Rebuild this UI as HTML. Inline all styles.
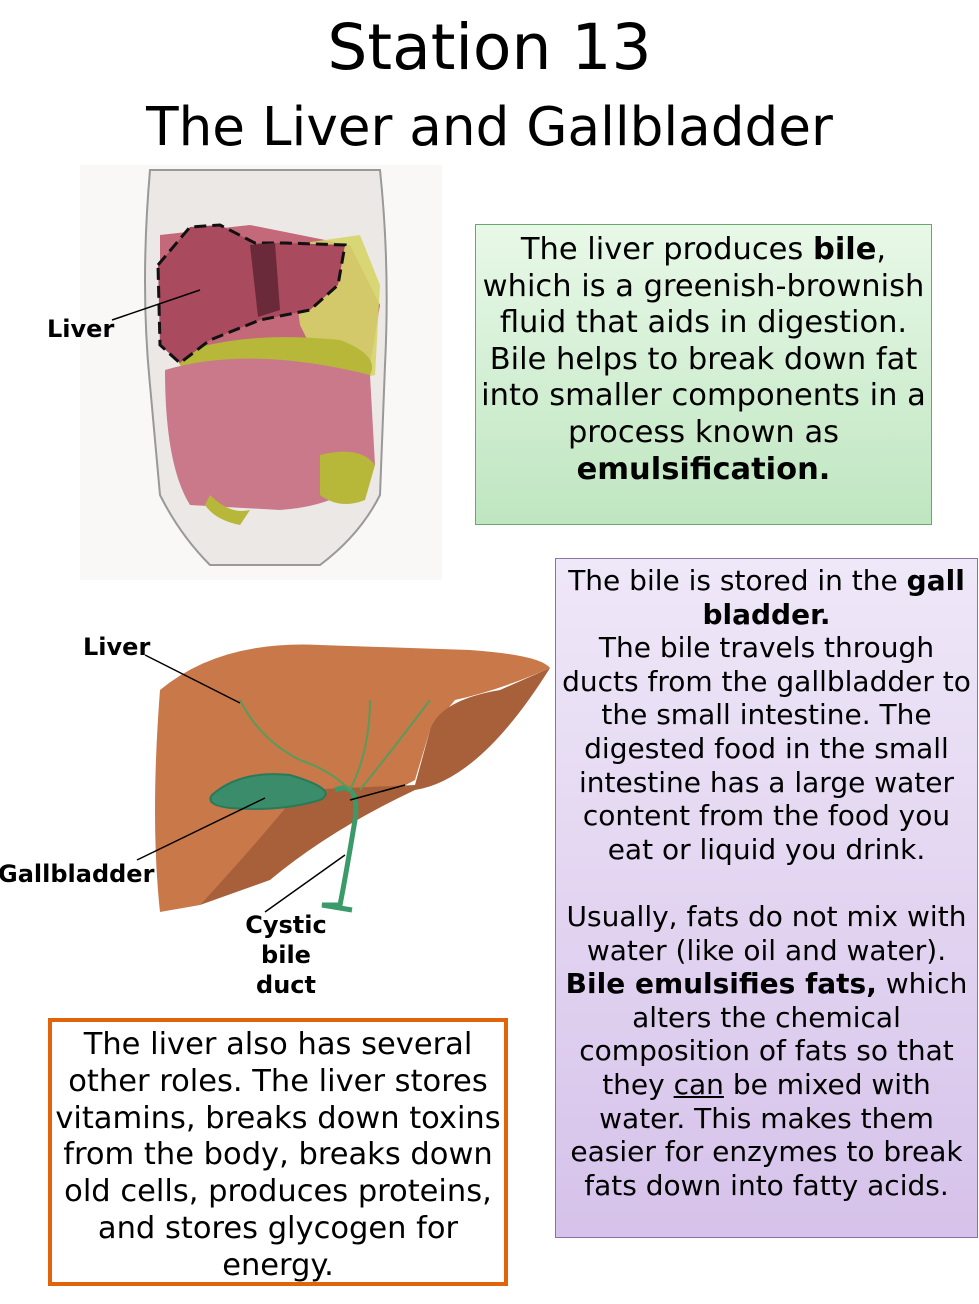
<!DOCTYPE html>
<html><head><meta charset="utf-8"><style>
body{margin:0;width:979px;height:1304px;background:#fff;position:relative;overflow:hidden;font-family:"DejaVu Sans","Liberation Sans",sans-serif;color:#000}
.t{position:absolute;left:0;width:979px;text-align:center}
.box{position:absolute;box-sizing:border-box;text-align:center;white-space:nowrap}
.lbl{position:absolute;font-weight:bold;font-size:24px}
</style></head><body>
<div class="t" style="top:12px;font-size:63px;line-height:72px">Station 13</div>
<div class="t" style="top:96px;font-size:53.2px;line-height:62px">The Liver and Gallbladder</div>

<svg style="position:absolute;left:80px;top:165px" width="362" height="415" viewBox="0 0 362 415">
<rect width="362" height="415" fill="#f9f8f7"/>
<path d="M70 5 Q60 120 70 220 L80 330 Q100 370 130 400 L240 400 Q280 370 300 330 L305 200 Q310 100 300 5 Z" fill="#ebe8e6" stroke="#999" stroke-width="2"/>
<path d="M80 70 L170 60 L270 80 L300 140 L290 200 L200 210 L110 200 L80 150 Z" fill="#c4697a"/>
<path d="M210 80 L280 70 L300 120 L295 210 L250 220 L220 160 Z" fill="#d6d468" opacity="0.9"/>
<path d="M95 190 Q160 165 260 175 Q300 190 290 210 Q230 230 110 220 Z" fill="#b7b83a"/>
<path d="M85 205 Q170 180 290 210 L295 300 Q270 340 200 345 L110 340 Q85 300 85 205Z" fill="#c9798a"/>
<path d="M240 290 Q280 280 295 300 L285 335 Q260 345 240 330Z" fill="#b7b83a"/>
<path d="M130 330 Q150 350 170 345 L160 360 Q135 355 125 340Z" fill="#b7b83a"/>
<path d="M78 100 L110 62 L140 60 L175 78 L205 78 L265 80 L258 120 L230 145 L180 155 L130 175 L100 198 L80 180 Z" fill="#a94a5e" stroke="#111" stroke-width="3" stroke-dasharray="12,6"/>
<path d="M170 80 L195 78 L200 145 L178 152 Z" fill="#6a2a3a"/>
</svg>
<div class="lbl" style="left:47px;top:315px">Liver</div>
<svg style="position:absolute;left:0;top:0" width="979" height="1304">
<line x1="112" y1="320" x2="200" y2="290" stroke="#000" stroke-width="1.5"/>
<path d="M160 690 Q220 640 320 645 L470 650 Q540 655 550 668 Q500 690 455 700 L430 730 L415 780 Q360 810 330 820 L200 905 L160 912 Q150 820 160 690Z" fill="#c9784a"/>
<path d="M200 905 Q260 840 300 790 L415 785 L430 730 Q440 700 500 690 L550 668 Q480 780 415 790 Q330 830 270 880Z" fill="#a8603a"/>
<path d="M212 795 Q240 770 290 775 Q340 790 320 800 Q280 812 230 808 Q205 805 212 795Z" fill="#3a8c6a" stroke="#2a7a5a" stroke-width="2"/>
<path d="M335 790 Q360 780 355 820 Q345 880 340 905 L322 905 L352 910" fill="none" stroke="#3a9a6a" stroke-width="5"/>
<path d="M240 700 Q260 740 300 760 Q330 770 350 790 M370 700 Q370 750 350 790 M430 700 Q400 740 360 790" fill="none" stroke="#5a9a5a" stroke-width="2"/>
<line x1="145" y1="655" x2="240" y2="703" stroke="#000" stroke-width="1.5"/>
<line x1="137" y1="860" x2="265" y2="798" stroke="#000" stroke-width="1.5"/>
<line x1="265" y1="912" x2="345" y2="855" stroke="#000" stroke-width="1.5"/>
<line x1="350" y1="800" x2="405" y2="785" stroke="#000" stroke-width="1.5"/>
</svg>
<div class="lbl" style="left:83px;top:633px">Liver</div>
<div class="lbl" style="left:-2px;top:860px">Gallbladder</div>
<div class="lbl" style="left:240px;top:910px;width:92px;text-align:center;line-height:30px">Cystic<br>bile<br>duct</div>

<div class="box" style="left:475px;top:224px;width:457px;height:301px;border:1px solid #6aa86a;background:linear-gradient(#e8f8e8,#bfe6c0);font-size:30.5px;line-height:36.6px;padding-top:7px">The liver produces <b>bile</b>,<br>which is a greenish-brownish<br>fluid that aids in digestion.<br>Bile helps to break down fat<br>into smaller components in a<br>process known as<br><b>emulsification.</b></div>

<div class="box" style="left:555px;top:558px;width:423px;height:680px;border:1px solid #8a72a8;background:linear-gradient(#efe8f8,#d6c2ea);font-size:28px;line-height:33.6px;padding-top:5px">The bile is stored in the <b>gall</b><br><b>bladder.</b><br>The bile travels through<br>ducts from the gallbladder to<br>the small intestine. The<br>digested food in the small<br>intestine has a large water<br>content from the food you<br>eat or liquid you drink.<br><br>Usually, fats do not mix with<br>water (like oil and water).<br><b>Bile emulsifies fats,</b> which<br>alters the chemical<br>composition of fats so that<br>they <u>can</u> be mixed with<br>water. This makes them<br>easier for enzymes to break<br>fats down into fatty acids.</div>

<div class="box" style="left:48px;top:1018px;width:460px;height:268px;border:4px solid #e0640a;background:#fff;font-size:30.5px;line-height:36.8px;padding-top:5px">The liver also has several<br>other roles. The liver stores<br>vitamins, breaks down toxins<br>from the body, breaks down<br>old cells, produces proteins,<br>and stores glycogen for<br>energy.</div>
</body></html>
